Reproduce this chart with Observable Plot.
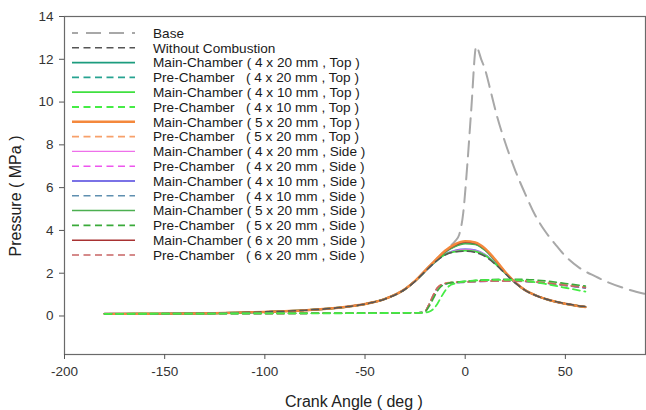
<!DOCTYPE html>
<html><head><meta charset="utf-8">
<script src="https://cdn.jsdelivr.net/npm/d3@7"></script>
<script src="https://cdn.jsdelivr.net/npm/@observablehq/plot@0.6"></script>
<style>
body{margin:0;background:#fff;}
#chart svg{display:block;}
</style></head><body><div id="chart"></div>
<script>
// ---- data ----
const xTicks = [-200, -150, -100, -50, 0, 50];
const yTicks = [0, 2, 4, 6, 8, 10, 12, 14];

const angleBase = [-180,-150,-120,-100,-80,-60,-50,-40,-30,-25,-20,-15,-10,-7,-5,-3,-1,1,3,5.5,8,10,13,16,20,25,30,35,40,45,50,57,65,72,80,90];
const pressBase = [0.10,0.11,0.14,0.19,0.27,0.42,0.56,0.80,1.26,1.64,2.12,2.60,3.05,3.30,3.50,3.80,4.80,7.00,9.60,12.6,12.0,11.5,10.4,9.3,8.1,6.8,5.7,4.7,3.95,3.35,2.80,2.25,1.85,1.55,1.28,1.03];

const angleMain = [-180,-150,-120,-100,-80,-60,-50,-40,-30,-25,-20,-15,-10,-5,0,5,10,15,20,25,30,35,40,45,50,55,60];
const withoutCombustion = [0.10,0.11,0.14,0.19,0.27,0.42,0.56,0.80,1.25,1.62,2.08,2.52,2.85,3.00,3.03,2.97,2.78,2.42,1.98,1.55,1.20,0.97,0.80,0.68,0.58,0.50,0.44];
const main4x20Top  = [0.10,0.11,0.14,0.19,0.27,0.42,0.56,0.80,1.26,1.64,2.11,2.57,3.00,3.28,3.42,3.37,3.08,2.60,2.04,1.56,1.20,0.97,0.80,0.67,0.57,0.49,0.42];
const main4x10Top  = [0.10,0.11,0.14,0.19,0.27,0.42,0.56,0.80,1.25,1.63,2.09,2.53,2.88,3.01,3.06,3.02,2.83,2.45,2.00,1.56,1.20,0.97,0.80,0.67,0.57,0.49,0.42];
const main5x20Top  = [0.10,0.11,0.14,0.19,0.27,0.42,0.56,0.80,1.26,1.64,2.12,2.60,3.05,3.36,3.50,3.44,3.15,2.64,2.06,1.57,1.20,0.97,0.80,0.67,0.57,0.49,0.42];
const main4x20Side = [0.10,0.11,0.14,0.19,0.27,0.42,0.56,0.80,1.25,1.63,2.09,2.53,2.89,3.04,3.10,3.05,2.85,2.46,2.00,1.56,1.20,0.97,0.80,0.67,0.57,0.49,0.42];
const main4x10Side = [0.10,0.11,0.14,0.19,0.27,0.42,0.56,0.80,1.25,1.63,2.09,2.53,2.90,3.06,3.12,3.07,2.86,2.47,2.00,1.56,1.20,0.97,0.80,0.67,0.57,0.49,0.42];
const main5x20Side = [0.10,0.11,0.14,0.19,0.27,0.42,0.56,0.80,1.26,1.64,2.10,2.56,2.98,3.25,3.38,3.34,3.06,2.58,2.03,1.56,1.20,0.97,0.80,0.67,0.57,0.49,0.42];
const main6x20Side = [0.10,0.11,0.14,0.19,0.27,0.42,0.56,0.80,1.26,1.64,2.12,2.58,3.02,3.32,3.46,3.41,3.12,2.62,2.05,1.57,1.20,0.97,0.80,0.67,0.57,0.49,0.43];

const anglePre = [-180,-140,-100,-60,-40,-25,-22,-20,-18,-16,-14,-12,-10,-8,-5,0,5,10,20,30,40,50,60];
const pre4x20Top  = [0.10,0.11,0.12,0.13,0.14,0.15,0.16,0.22,0.55,0.95,1.30,1.46,1.52,1.55,1.57,1.60,1.62,1.63,1.64,1.62,1.55,1.44,1.32];
const pre4x10Top  = [0.10,0.11,0.12,0.13,0.14,0.15,0.15,0.16,0.20,0.32,0.55,0.88,1.18,1.40,1.52,1.62,1.66,1.68,1.69,1.64,1.50,1.32,1.14];
const pre5x20Top  = [0.10,0.11,0.12,0.13,0.14,0.15,0.16,0.22,0.56,0.97,1.31,1.47,1.53,1.56,1.58,1.60,1.62,1.64,1.65,1.63,1.56,1.46,1.35];
const pre4x20Side = [0.10,0.11,0.12,0.13,0.14,0.15,0.16,0.21,0.54,0.94,1.29,1.45,1.51,1.54,1.56,1.58,1.61,1.62,1.63,1.61,1.54,1.43,1.31];
const pre4x10Side = [0.10,0.11,0.12,0.13,0.14,0.15,0.16,0.21,0.53,0.93,1.28,1.44,1.50,1.53,1.55,1.57,1.60,1.62,1.63,1.61,1.53,1.42,1.30];
const pre5x20Side = [0.10,0.11,0.12,0.13,0.14,0.15,0.16,0.20,0.45,0.80,1.15,1.38,1.48,1.54,1.58,1.62,1.66,1.69,1.72,1.71,1.64,1.52,1.40];
const pre6x20Side = [0.10,0.11,0.12,0.13,0.14,0.15,0.16,0.22,0.55,0.96,1.30,1.46,1.52,1.55,1.57,1.59,1.61,1.63,1.64,1.62,1.55,1.44,1.33];

const legendLabels = [
  "Base",
  "Without Combustion",
  "Main-Chamber ( 4 x 20 mm , Top )",
  "Pre-Chamber   ( 4 x 20 mm , Top )",
  "Main-Chamber ( 4 x 10 mm , Top )",
  "Pre-Chamber   ( 4 x 10 mm , Top )",
  "Main-Chamber ( 5 x 20 mm , Top )",
  "Pre-Chamber   ( 5 x 20 mm , Top )",
  "Main-Chamber ( 4 x 20 mm , Side )",
  "Pre-Chamber   ( 4 x 20 mm , Side )",
  "Main-Chamber ( 4 x 10 mm , Side )",
  "Pre-Chamber   ( 4 x 10 mm , Side )",
  "Main-Chamber ( 5 x 20 mm , Side )",
  "Pre-Chamber   ( 5 x 20 mm , Side )",
  "Main-Chamber ( 6 x 20 mm , Side )",
  "Pre-Chamber   ( 6 x 20 mm , Side )"
];

// ---- styles ----
const DASH = "7,4.5";
const series = [
  {label: legendLabels[0],  x: angleBase, y: pressBase,         color: "#a8a8a8", width: 2,   dash: "15,8"},
  {label: legendLabels[1],  x: angleMain, y: withoutCombustion, color: "#555555", width: 1.6, dash: DASH},
  {label: legendLabels[2],  x: angleMain, y: main4x20Top,       color: "#1c9c7e", width: 1.8, dash: null},
  {label: legendLabels[3],  x: anglePre,  y: pre4x20Top,        color: "#27a391", width: 1.6, dash: DASH},
  {label: legendLabels[4],  x: angleMain, y: main4x10Top,       color: "#3fe03f", width: 1.8, dash: null},
  {label: legendLabels[5],  x: anglePre,  y: pre4x10Top,        color: "#45ec45", width: 1.8, dash: DASH},
  {label: legendLabels[6],  x: angleMain, y: main5x20Top,       color: "#f4883c", width: 2.4, dash: null},
  {label: legendLabels[7],  x: anglePre,  y: pre5x20Top,        color: "#f7a06a", width: 1.6, dash: DASH},
  {label: legendLabels[8],  x: angleMain, y: main4x20Side,      color: "#ee70ea", width: 1.3, dash: null},
  {label: legendLabels[9],  x: anglePre,  y: pre4x20Side,       color: "#ee55ee", width: 1.6, dash: DASH},
  {label: legendLabels[10], x: angleMain, y: main4x10Side,      color: "#7a72e6", width: 2,   dash: null},
  {label: legendLabels[11], x: anglePre,  y: pre4x10Side,       color: "#5f8fb0", width: 1.4, dash: DASH},
  {label: legendLabels[12], x: angleMain, y: main5x20Side,      color: "#4caf50", width: 1.5, dash: null},
  {label: legendLabels[13], x: anglePre,  y: pre5x20Side,       color: "#3aaa3a", width: 1.6, dash: DASH},
  {label: legendLabels[14], x: angleMain, y: main6x20Side,      color: "#a83232", width: 1.5, dash: null},
  {label: legendLabels[15], x: anglePre,  y: pre6x20Side,       color: "#c86464", width: 1.5, dash: DASH}
];
// drawing order (index into series)
const drawOrder = [0, 10, 8, 4, 2, 12, 14, 6, 1, 3, 9, 11, 7, 15, 13, 5];

const FONT = "'Liberation Sans', Arial, Helvetica, sans-serif";

const lineMarks = drawOrder.map(i => {
  const s = series[i];
  const data = s.x.map((x, k) => ({x, y: s.y[k]}));
  return Plot.line(data, {
    x: "x", y: "y", stroke: s.color, strokeWidth: s.width,
    strokeDasharray: s.dash ?? undefined, curve: "monotone-x"
  });
});

const chart = Plot.plot({
  width: 646, height: 410,
  marginLeft: 64, marginRight: 1, marginTop: 16, marginBottom: 56,
  style: {fontFamily: FONT, fontSize: "13.5px", color: "#333", background: "#fff"},
  x: {domain: [-200, 90]},
  y: {domain: [-1.8, 14]},
  marks: [
    ...lineMarks,
    Plot.frame({stroke: "#6a6a6a", strokeWidth: 1.2}),
    Plot.axisX({ticks: xTicks, tickSize: 5, tickPadding: 7, label: null, tickFormat: d => String(d), stroke: "#555", fill: "#333"}),
    Plot.axisY({ticks: yTicks, tickSize: 5, tickPadding: 6, label: null, tickFormat: d => String(d), stroke: "#555", fill: "#333"})
  ]
});
document.getElementById("chart").appendChild(chart);

// ---- axis titles and legend (overlay in the svg) ----
const svg = d3.select(chart);
svg.append("text").attr("x", 354).attr("y", 407).attr("text-anchor", "middle")
  .attr("font-size", 16).attr("fill", "#222").attr("font-family", FONT).text("Crank Angle ( deg )");
svg.append("text").attr("transform", "translate(21,196) rotate(-90)").attr("text-anchor", "middle")
  .attr("font-size", 16).attr("fill", "#222").attr("font-family", FONT).text("Pressure ( MPa )");

const lg = svg.append("g").attr("font-family", FONT).attr("font-size", 13.6).attr("fill", "#1a1a1a")
  .attr("text-anchor", "start");
series.forEach((s, i) => {
  const y = 33 + i * 14.8;
  lg.append("line").attr("x1", 72).attr("x2", 135).attr("y1", y).attr("y2", y)
    .attr("stroke", s.color).attr("stroke-width", s.width)
    .attr("stroke-dasharray", s.dash).attr("stroke-dashoffset", i === 0 ? 9 : 0);
  lg.append("text").attr("x", 153).attr("y", y + 4.8).attr("text-anchor", "start")
    .style("white-space", "pre").text(s.label);
});
</script>
</body></html>
